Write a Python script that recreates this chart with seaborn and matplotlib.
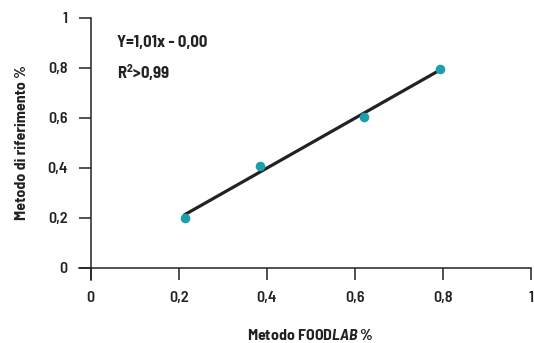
import matplotlib
matplotlib.use('Agg')
import matplotlib.pyplot as plt
import seaborn as sns
import pandas as pd

# values
foodlab = [0.213, 0.385, 0.622, 0.794]
riferimento = [0.200, 0.408, 0.604, 0.796]
tick_values = [0, 0.2, 0.4, 0.6, 0.8, 1]
tick_labels = ['0', '0,2', '0,4', '0,6', '0,8', '1']

df = pd.DataFrame({'FOODLAB': foodlab, 'Riferimento': riferimento})

sns.set_style('white')
plt.rcParams['font.family'] = ['Barlow Semi Condensed', 'Barlow Condensed', 'DejaVu Sans']
plt.rcParams['mathtext.fontset'] = 'custom'
plt.rcParams['mathtext.rm'] = 'Barlow Semi Condensed:bold'
plt.rcParams['mathtext.bf'] = 'Barlow Semi Condensed:bold'
plt.rcParams['mathtext.it'] = 'Barlow Semi Condensed:italic:bold'

ink = '#222222'
fig = plt.figure(figsize=(5.34, 3.43), dpi=100)
ax = fig.add_axes([0.170, 0.219, 0.824, 0.729])

sns.regplot(x='FOODLAB', y='Riferimento', data=df, ci=None, ax=ax,
            scatter_kws={'color': '#1b9fa8', 's': 48, 'alpha': 1, 'zorder': 3, 'linewidths': 0},
            line_kws={'color': ink, 'lw': 2.3, 'zorder': 2})

ax.set_xlim(0, 1)
ax.set_ylim(0, 1)
ax.set_xticks(tick_values)
ax.set_xticklabels(tick_labels)
ax.set_yticks(tick_values)
ax.set_yticklabels(tick_labels)

for s in ['top', 'right']:
    ax.spines[s].set_visible(False)
for s in ['left', 'bottom']:
    ax.spines[s].set_color(ink)
    ax.spines[s].set_linewidth(1.1)
ax.spines['bottom'].set_bounds(-0.027, 1)
ax.spines['left'].set_bounds(-0.048, 1)

ax.tick_params(axis='both', bottom=True, left=True, direction='out', length=8.6, width=1.1,
               color=ink, labelsize=11.5, labelcolor=ink)
ax.tick_params(axis='x', pad=8)
ax.tick_params(axis='y', pad=8)
for lab in ax.get_xticklabels() + ax.get_yticklabels():
    lab.set_fontweight('semibold')

ax.set_xlabel(r'Metodo FOOD$\mathit{LAB}$ %', fontsize=11.5, fontweight='bold', color=ink)
ax.set_ylabel('Metodo di riferimento %', fontsize=11.5, fontweight='bold', color=ink)
ax.xaxis.set_label_coords(0.5, -0.24)
ax.yaxis.set_label_coords(-0.14, 0.5)

ax.text(0.059, 0.90, 'Y=1,01x - 0,00', transform=ax.transAxes, fontsize=12,
        fontweight='bold', color=ink, va='center')
ax.text(0.059, 0.78, r'R$^{\mathbf{2}}$>0,99', transform=ax.transAxes, fontsize=12,
        fontweight='bold', color=ink, va='center')

fig.savefig('out.png', dpi=100)
